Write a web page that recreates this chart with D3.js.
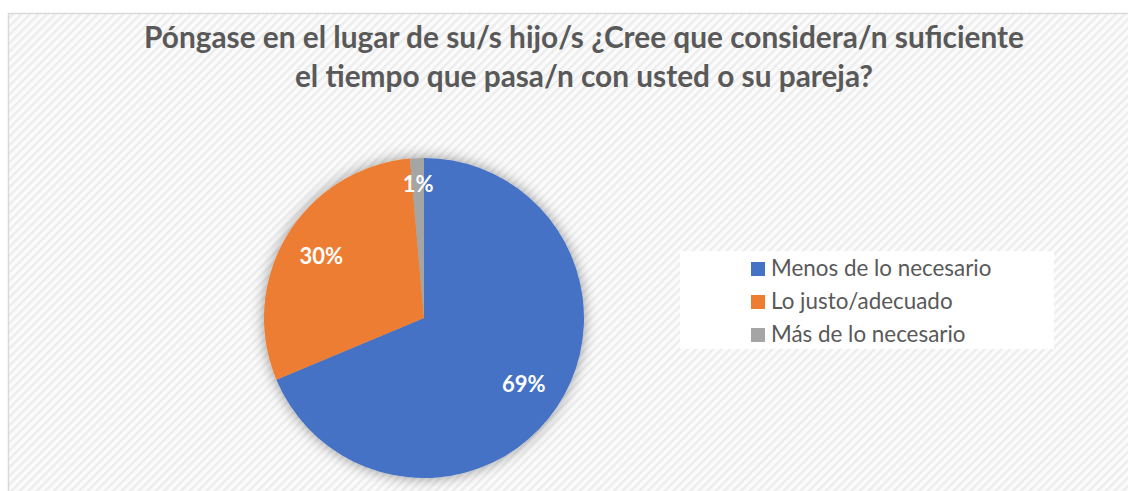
<!DOCTYPE html>
<html>
<head>
<meta charset="utf-8">
<script src="https://cdn.jsdelivr.net/npm/d3@7"></script>
<style>
  html, body { margin: 0; padding: 0; background: #fff; overflow: hidden; }
  svg { display: block; font-family: Lato, "Open Sans", sans-serif; }
</style>
</head>
<body>
<svg id="chart" width="1128" height="491"></svg>
<script>
// data
const titleLines = ["Póngase en el lugar de su/s hijo/s ¿Cree que considera/n suficiente",
                    "el tiempo que pasa/n con usted o su pareja?"]
const categories = ["Menos de lo necesario", "Lo justo/adecuado", "Más de lo necesario"]
const shares = [0.687, 0.299, 0.014]
const colors = ["#4472C4", "#ED7D31", "#A5A5A5"]

const width = 1128, height = 491
const svg = d3.select("#chart")

const defs = svg.append("defs")

// excel style wide downward diagonal hatch
const pat = defs.append("pattern")
    .attr("id", "hatch")
    .attr("patternUnits", "userSpaceOnUse")
    .attr("width", 6).attr("height", 6)
    .attr("patternTransform", "rotate(45)")
pat.append("rect").attr("width", 6).attr("height", 6).attr("fill", "#fbfbfb")
pat.append("rect").attr("width", 2.4).attr("height", 6).attr("fill", "#ececec")

const shadow = defs.append("filter")
    .attr("id", "glow")
    .attr("x", "-20%").attr("y", "-20%")
    .attr("width", "140%").attr("height", "140%")
shadow.append("feDropShadow")
    .attr("dx", 0).attr("dy", 0)
    .attr("stdDeviation", 7)
    .attr("flood-color", "#000")
    .attr("flood-opacity", 0.4)

// chart area (runs off the right and bottom of the picture)
svg.append("rect")
    .attr("x", 8.5).attr("y", 13.5)
    .attr("width", 1152).attr("height", 520)
    .attr("fill", "url(#hatch)")
    .attr("stroke", "#d9d9d9")
    .attr("stroke-width", 1.5)

// title
svg.append("g")
  .selectAll("text")
  .data(titleLines)
  .join("text")
    .attr("x", 584)
    .attr("y", (d, i) => 48 + i * 39)
    .attr("text-anchor", "middle")
    .attr("font-size", 29.8)
    .attr("font-weight", 700)
    .attr("fill", "#595959")
    .text(d => d)

// pie
const cx = 424, cy = 318, radius = 160

const pie = d3.pie().sort(null).value(d => d)
const arcs = pie(shares)
const arc = d3.arc().innerRadius(0).outerRadius(radius)

const gPie = svg.append("g").attr("transform", `translate(${cx},${cy})`)

gPie.append("g")
    .attr("filter", "url(#glow)")
  .selectAll("path")
  .data(arcs)
  .join("path")
    .attr("d", arc)
    .attr("fill", (d, i) => colors[i])

const fmt = d3.format(".0%")
gPie.selectAll("text.lbl")
  .data(arcs)
  .join("text")
    .attr("class", "lbl")
    .attr("transform", d => {
      const r = d.data < 0.05 ? radius * 0.84 : radius * 0.75
      const a = (d.startAngle + d.endAngle) / 2
      return `translate(${r * Math.sin(a)},${-r * Math.cos(a)})`
    })
    .attr("text-anchor", "middle")
    .attr("dy", "0.36em")
    .attr("font-size", 22)
    .attr("font-weight", 700)
    .attr("fill", "#fff")
    .text(d => fmt(d.data))

// legend
const legend = svg.append("g")
legend.append("rect")
    .attr("x", 680).attr("y", 251)
    .attr("width", 374).attr("height", 98)
    .attr("fill", "#fff")
    .attr("fill-opacity", 0.92)

const rows = legend.selectAll("g.row")
  .data(categories)
  .join("g")
    .attr("class", "row")
    .attr("transform", (d, i) => `translate(751,${276 + i * 33})`)

rows.append("rect")
    .attr("x", 0).attr("y", -14)
    .attr("width", 14).attr("height", 14)
    .attr("fill", (d, i) => colors[i])

rows.append("text")
    .attr("x", 20)
    .attr("y", 0)
    .attr("font-size", 22.4)
    .attr("fill", "#595959")
    .text(d => d)
</script>
</body>
</html>
